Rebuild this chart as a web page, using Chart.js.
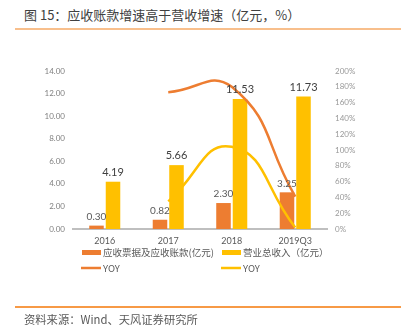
<!DOCTYPE html>
<html>
<head>
<meta charset="utf-8">
<script src="https://cdn.jsdelivr.net/npm/chart.js@4/dist/chart.umd.min.js"></script>
<style>
  body { margin: 0; background: #fff; }
  #wrap { position: relative; width: 401px; height: 335px; overflow: hidden; }
  #c { position: absolute; left: 0; top: 0; }
  .title { position: absolute; left: 24px; top: 5px; font: 13px "Noto Sans CJK SC", sans-serif; color: #404040; white-space: nowrap; }
  .rule { position: absolute; left: 15px; right: 0; height: 1.5px; }
  .src { position: absolute; left: 24px; top: 311px; font: 11.3px "Noto Sans CJK SC", sans-serif; color: #595959; white-space: nowrap; }
</style>
</head>
<body>
<div id="wrap">
  <div class="title">图 15：应收账款增速高于营收增速（亿元，%）</div>
  <div class="rule" style="top:28px;background:#f8bf8c"></div>
  <canvas id="c" width="401" height="335"></canvas>
  <div class="rule" style="top:306px;background:#f79a46"></div>
  <div class="src">资料来源：Wind、天风证券研究所</div>
</div>
<script>
'use strict'
let years = ['2016', '2017', '2018', '2019Q3'];
let receivables = [0.30, 0.82, 2.30, 3.25];   // 亿元
let revenue = [4.19, 5.66, 11.53, 11.73];     // 亿元
let receivYoy = [null, 173, 180, 41];         // %
let revenueYoy = [null, 35, 104, 2];          // %
let leftTicks = [0, 2, 4, 6, 8, 10, 12, 14];
let rightTicks = [0, 20, 40, 60, 80, 100, 120, 140, 160, 180, 200];

let orange = '#ed7d31';
let yellow = '#ffc000';

// value text above each bar
let barLabels = {
    id: 'barLabels',
    afterDatasetsDraw(chart) {
        let ctx = chart.ctx;
        ctx.save();
        ctx.textAlign = 'center';
        ctx.textBaseline = 'bottom';
        chart.data.datasets.forEach(function(ds, i){
            if (ds.type !== 'bar') return;
            let meta = chart.getDatasetMeta(i);
            ctx.font = ds.labelFont;
            ctx.fillStyle = ds.labelColor;
            meta.data.forEach(function(bar, j){
                ctx.fillText(ds.data[j].toFixed(2), bar.x, bar.y - 4);
            });
        });
        ctx.restore();
    }
};

// two-row legend under the x axis
let legendRows = {
    id: 'legendRows',
    afterDraw(chart) {
        let ctx = chart.ctx;
        let items = [
            {ds: 0, x: 82, y: 252.5},
            {ds: 1, x: 222, y: 252.5},
            {ds: 2, x: 82, y: 268},
            {ds: 3, x: 222, y: 268}
        ];
        ctx.save();
        ctx.font = '9.5px "Noto Sans CJK SC", sans-serif';
        ctx.textBaseline = 'middle';
        items.forEach(function(it){
            let ds = chart.data.datasets[it.ds];
            if (ds.type === 'bar') {
                ctx.fillStyle = ds.backgroundColor;
                ctx.fillRect(it.x, it.y - 2.5, 19, 5);
            } else {
                ctx.strokeStyle = ds.borderColor;
                ctx.lineWidth = 2.5;
                ctx.beginPath();
                ctx.moveTo(it.x - 1, it.y);
                ctx.lineTo(it.x + 19, it.y);
                ctx.stroke();
            }
            ctx.fillStyle = '#595959';
            ctx.fillText(ds.label, it.x + 21, it.y);
        });
        ctx.restore();
    }
};

let ctx = document.getElementById('c').getContext('2d');
let chart = new Chart(ctx, {
    data: {
        labels: years,
        datasets: [{
            type: 'bar',
            label: '应收票据及应收账款(亿元)',
            data: receivables,
            backgroundColor: orange,
            yAxisID: 'y',
            order: 2,
            labelFont: '10px Lato, sans-serif',
            labelColor: '#595959'
        }, {
            type: 'bar',
            label: '营业总收入（亿元）',
            data: revenue,
            backgroundColor: yellow,
            yAxisID: 'y',
            order: 2,
            labelFont: '11px Lato, sans-serif',
            labelColor: '#404040'
        }, {
            type: 'line',
            label: 'YOY',
            data: receivYoy,
            borderColor: orange,
            borderWidth: 2.5,
            pointRadius: 0,
            tension: 0.5,
            yAxisID: 'y2',
            order: 1
        }, {
            type: 'line',
            label: 'YOY',
            data: revenueYoy,
            borderColor: yellow,
            borderWidth: 2.5,
            pointRadius: 0,
            tension: 0.5,
            yAxisID: 'y2',
            order: 1
        }]
    },
    options: {
        responsive: false,
        devicePixelRatio: 1,
        animation: false,
        layout: { padding: { top: 71, bottom: 86, left: 0, right: 0 } },
        datasets: { bar: { categoryPercentage: 0.52, barPercentage: 0.88 } },
        plugins: { legend: { display: false }, tooltip: { enabled: false } },
        scales: {
            x: {
                grid: { display: false, drawTicks: false },
                border: { display: true, color: '#bfbfbf', width: 2 },
                ticks: { color: '#595959', font: { size: 9, family: 'Lato' }, padding: 7 },
                afterFit(s) { s.height = 20; }
            },
            y: {
                position: 'left',
                min: leftTicks[0],
                max: leftTicks[leftTicks.length - 1],
                grid: { display: false, drawTicks: false },
                border: { display: false },
                afterBuildTicks(s) { s.ticks = leftTicks.map(v => ({value: v})); },
                ticks: { color: '#7f7f7f', font: { size: 8, family: 'Lato' }, padding: 8,
                    callback: v => v.toFixed(2) },
                afterFit(s) { s.width = 73; }
            },
            y2: {
                position: 'right',
                min: rightTicks[0],
                max: rightTicks[rightTicks.length - 1],
                grid: { display: false, drawTicks: false },
                border: { display: false },
                afterBuildTicks(s) { s.ticks = rightTicks.map(v => ({value: v})); },
                ticks: { color: '#999999', font: { size: 8, family: 'Lato' }, padding: 8,
                    callback: v => v + '%' },
                afterFit(s) { s.width = 74; }
            }
        }
    },
    plugins: [barLabels, legendRows]
});
</script>
</body>
</html>
